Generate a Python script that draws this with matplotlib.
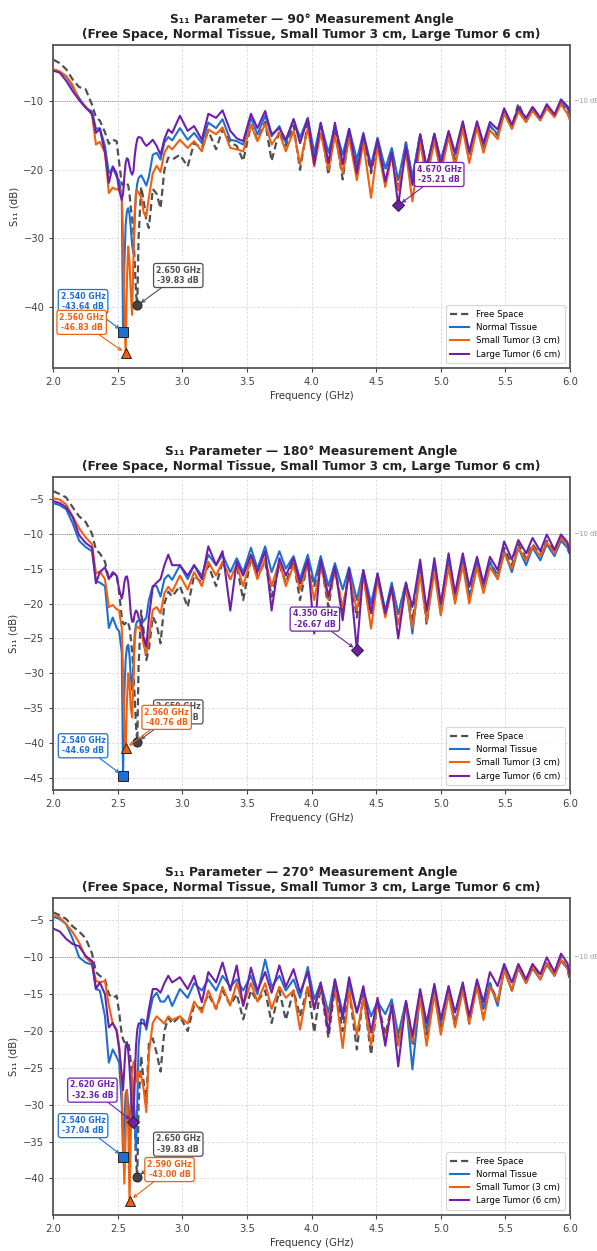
import numpy as np
import matplotlib
matplotlib.use("Agg")
from matplotlib import pyplot as plt
from matplotlib.transforms import blended_transform_factory

# frequency points (GHz) shared by every trace
freq_low = [2.00, 2.05, 2.10, 2.15, 2.20, 2.25, 2.30,
            2.33, 2.36, 2.40, 2.43, 2.46, 2.49, 2.51,
            2.53, 2.54, 2.55, 2.56, 2.57, 2.58, 2.59, 2.60, 2.61, 2.62, 2.63, 2.64, 2.65, 2.66,
            2.68, 2.70, 2.72, 2.74, 2.77, 2.80, 2.83, 2.86, 2.89, 2.92]
freq_high = [2.98, 3.04, 3.09, 3.15, 3.20, 3.26, 3.31, 3.37, 3.42, 3.47,
             3.53, 3.58, 3.64, 3.69, 3.75, 3.80, 3.86, 3.91, 3.97, 4.02,
             4.07, 4.13, 4.18, 4.24, 4.29, 4.35, 4.40, 4.46, 4.51, 4.57,
             4.62, 4.67, 4.73, 4.78, 4.84, 4.89, 4.95, 5.00, 5.06, 5.11,
             5.17, 5.22, 5.28, 5.33, 5.38, 5.44, 5.49, 5.55, 5.60, 5.66,
             5.71, 5.77, 5.82, 5.88, 5.93, 5.98, 6.00]
freq = np.array(freq_low + freq_high)

# ---- 90 deg ----
free_90 = [-3.9, -4.4, -5.3, -6.8, -7.9, -8.2, -10.5,
           -12.3, -12.8, -14.5, -16.2, -15.6, -15.8, -19.0,
           -22.0, -22.3, -22.0, -21.8, -21.9, -22.3, -23.5, -25.5, -27.0, -29.0, -33.5, -38.0, -39.83, -30.0,
           -22.5, -24.5, -27.5, -28.5, -22.8, -23.5, -25.6, -20.0, -18.2, -18.5,
           -17.8, -19.5, -16.1, -16.8, -14.3, -17.0, -14.1, -16.0, -16.5, -18.7,
           -13.4, -15.6, -13.0, -18.7, -14.3, -16.5, -13.5, -20.0, -13.2, -18.0,
           -13.5, -20.7, -14.0, -21.4, -14.5, -19.5, -15.0, -20.5, -15.8, -20.0,
           -17.0, -22.5, -16.0, -21.5, -14.8, -20.0, -14.8, -19.0, -14.5, -18.5,
           -13.2, -18.0, -13.5, -17.0, -13.5, -15.0, -11.2, -13.8, -10.3, -12.8,
           -10.8, -12.5, -10.5, -12.0, -10.0, -11.5, -12.6]
normal_90 = [-5.3, -5.7, -6.4, -7.9, -9.5, -10.9, -11.5,
             -14.0, -13.9, -16.5, -20.5, -19.7, -21.0, -21.5,
             -24.0, -43.64, -34.0, -28.0, -26.0, -25.6, -26.5, -28.5, -31.0, -32.2, -27.0, -23.5, -22.0, -21.2,
             -20.8, -21.5, -22.3, -21.0, -17.8, -17.5, -18.5, -16.0, -15.2, -15.7,
             -13.9, -15.6, -14.6, -16.1, -13.1, -13.9, -12.6, -15.6, -15.8, -16.3,
             -12.4, -14.8, -12.1, -15.1, -13.6, -16.1, -12.6, -15.3, -12.4, -17.5,
             -13.2, -17.5, -13.6, -17.8, -14.0, -18.5, -14.6, -19.3, -15.3, -19.8,
             -16.8, -21.5, -16.0, -21.0, -14.8, -19.5, -14.8, -18.5, -14.6, -17.8,
             -13.4, -17.6, -13.4, -16.6, -13.5, -14.8, -11.4, -14.0, -11.2, -13.0,
             -11.1, -12.7, -10.7, -12.2, -10.1, -11.0, -11.9]
small_90 = [-5.3, -5.6, -6.3, -7.6, -9.8, -10.7, -12.0,
            -16.3, -15.9, -17.5, -23.4, -22.6, -22.9, -22.7,
            -23.5, -30.0, -40.0, -46.83, -36.0, -31.2, -33.5, -38.0, -41.2, -33.0, -26.5, -23.3, -23.0, -23.4,
            -24.0, -26.3, -26.8, -24.0, -20.5, -19.4, -20.3, -17.5, -16.5, -17.0,
            -15.6, -16.8, -15.8, -17.3, -14.1, -14.8, -13.8, -16.8, -17.0, -17.3,
            -13.4, -15.8, -13.3, -16.3, -14.6, -17.3, -14.3, -19.2, -13.9, -19.5,
            -14.6, -20.0, -15.0, -20.5, -15.3, -21.5, -16.0, -24.1, -16.6, -22.5,
            -18.0, -23.0, -17.5, -24.6, -16.0, -21.5, -15.8, -20.5, -15.2, -19.5,
            -14.0, -19.0, -13.8, -17.5, -14.2, -15.5, -11.8, -14.0, -11.5, -13.0,
            -11.4, -12.8, -11.0, -12.3, -10.4, -11.8, -12.8]
large_90 = [-5.5, -5.8, -7.0, -8.5, -9.8, -10.9, -11.8,
            -14.6, -14.0, -17.5, -21.9, -19.5, -20.5, -23.0,
            -24.4, -23.5, -21.0, -19.0, -18.3, -18.5, -19.5, -20.3, -20.7, -20.2, -18.0, -16.5, -15.5, -15.2,
            -15.3, -16.0, -16.5, -16.2, -15.6, -16.5, -17.8, -15.5, -14.1, -14.6,
            -12.1, -14.3, -13.6, -15.6, -11.8, -12.4, -11.3, -14.3, -15.4, -15.8,
            -11.8, -13.9, -11.4, -14.8, -13.9, -15.6, -12.6, -16.1, -12.5, -19.2,
            -13.1, -19.0, -13.1, -19.2, -14.0, -20.5, -14.8, -20.0, -15.6, -21.7,
            -17.5, -25.21, -16.6, -22.2, -14.8, -19.7, -14.7, -19.2, -14.3, -17.5,
            -12.9, -17.3, -12.9, -16.1, -13.0, -14.1, -11.0, -13.4, -10.9, -12.4,
            -10.8, -12.4, -10.4, -11.9, -9.7, -10.7, -11.4]

# ---- 180 deg ----
free_180 = [-3.9, -4.3, -4.8, -6.2, -7.5, -8.3, -10.0,
            -12.3, -12.8, -14.0, -16.5, -15.8, -15.7, -18.5,
            -22.0, -22.8, -23.0, -22.8, -22.5, -22.8, -23.5, -25.0, -27.0, -29.5, -33.5, -37.5, -39.83, -29.0,
            -21.0, -24.0, -28.1, -26.5, -21.9, -23.0, -25.7, -20.0, -18.3, -19.0,
            -17.5, -20.5, -16.0, -17.0, -14.5, -17.5, -14.0, -16.5, -14.5, -19.5,
            -13.5, -16.0, -14.0, -19.0, -14.5, -17.0, -14.0, -19.5, -14.0, -17.5,
            -14.0, -20.5, -14.8, -21.0, -15.2, -22.0, -15.5, -21.5, -16.0, -21.5,
            -17.5, -21.5, -17.0, -22.5, -14.8, -23.0, -14.5, -21.0, -13.8, -19.0,
            -13.5, -19.0, -14.0, -18.0, -14.0, -16.0, -12.0, -14.5, -11.5, -13.5,
            -11.5, -13.0, -11.0, -12.5, -10.5, -11.8, -13.3]
normal_180 = [-5.6, -5.9, -6.5, -8.5, -11.0, -11.9, -12.5,
              -16.8, -17.0, -17.5, -23.5, -22.0, -23.5, -24.0,
              -27.0, -44.69, -33.0, -28.0, -26.2, -25.9, -27.5, -30.5, -32.4, -29.0, -24.3, -23.0, -22.5, -22.4,
              -22.9, -22.5, -22.0, -19.5, -17.5, -17.5, -19.0, -16.5, -15.9, -16.6,
              -14.5, -16.5, -14.5, -16.0, -13.0, -14.5, -13.0, -15.5, -13.5, -15.5,
              -12.0, -15.0, -11.8, -15.5, -12.5, -15.0, -13.2, -16.5, -13.0, -17.0,
              -13.2, -17.5, -14.2, -18.0, -14.8, -19.5, -15.2, -20.0, -15.7, -21.0,
              -17.0, -21.5, -17.0, -24.3, -14.5, -22.0, -14.3, -21.5, -13.8, -19.5,
              -13.5, -19.5, -14.0, -18.0, -14.0, -16.5, -12.5, -15.5, -12.0, -14.5,
              -12.0, -13.8, -11.5, -13.2, -11.0, -12.0, -13.0]
small_180 = [-4.9, -5.1, -5.8, -7.5, -9.2, -10.5, -11.5,
             -15.7, -15.4, -16.5, -20.5, -20.2, -20.8, -21.0,
             -23.5, -30.0, -38.0, -40.76, -34.0, -30.0, -31.5, -35.0, -36.3, -31.0, -25.5, -23.3, -23.3, -23.5,
             -23.8, -26.0, -27.2, -25.0, -20.9, -20.5, -21.4, -18.5, -17.6, -18.3,
             -16.0, -18.0, -15.5, -17.5, -14.0, -16.0, -14.0, -16.5, -14.5, -17.5,
             -13.5, -16.5, -13.5, -17.5, -14.0, -17.5, -14.5, -18.0, -14.5, -19.5,
             -14.5, -19.5, -15.3, -20.5, -15.8, -21.0, -16.0, -23.6, -16.5, -22.0,
             -18.0, -23.0, -17.8, -23.5, -15.8, -22.5, -15.5, -21.7, -14.8, -20.0,
             -14.5, -20.0, -14.8, -18.5, -14.8, -16.5, -12.8, -15.0, -12.0, -13.8,
             -11.8, -13.2, -11.2, -12.8, -10.6, -11.6, -12.6]
large_180 = [-5.3, -5.6, -6.2, -7.6, -10.2, -11.3, -12.0,
             -17.1, -15.5, -14.8, -16.5, -15.5, -16.0, -18.0,
             -19.3, -18.5, -17.0, -16.2, -16.1, -17.0, -19.0, -21.5, -22.6, -22.6, -21.5, -21.0, -21.2, -22.0,
             -22.5, -25.0, -26.2, -22.0, -17.6, -17.0, -16.5, -14.5, -13.0, -14.5,
             -14.5, -16.0, -14.5, -16.5, -11.8, -14.5, -12.5, -21.0, -14.0, -16.0,
             -13.0, -15.5, -12.5, -21.0, -13.5, -16.0, -13.5, -17.1, -13.7, -24.3,
             -13.7, -19.0, -14.7, -22.4, -15.0, -26.67, -15.2, -21.4, -15.7, -21.4,
             -17.6, -25.0, -17.1, -20.5, -13.7, -21.0, -13.5, -20.0, -12.8, -18.5,
             -12.8, -17.6, -13.3, -17.1, -13.3, -15.2, -11.1, -13.7, -10.9, -12.8,
             -10.6, -12.5, -10.1, -12.3, -10.1, -11.2, -12.8]

# ---- 270 deg ----
free_270 = [-3.9, -4.3, -4.8, -5.8, -6.5, -7.4, -9.5,
            -12.0, -12.5, -13.0, -15.0, -15.5, -15.2, -17.5,
            -20.5, -21.1, -21.5, -21.5, -21.6, -21.6, -22.5, -24.3, -26.0, -28.5, -32.0, -37.5, -39.83, -30.0,
            -23.4, -27.0, -29.8, -21.6, -21.0, -23.0, -25.5, -20.0, -18.2, -19.0,
            -18.0, -20.0, -16.5, -17.0, -15.0, -17.0, -14.5, -16.5, -15.0, -18.4,
            -14.5, -16.0, -14.5, -18.9, -14.5, -18.5, -14.5, -18.0, -14.0, -20.2,
            -14.0, -20.9, -14.0, -20.0, -14.5, -22.5, -15.0, -23.2, -16.0, -20.5,
            -16.5, -21.0, -16.0, -22.0, -15.0, -20.5, -14.5, -20.0, -14.5, -19.0,
            -14.0, -19.0, -13.5, -18.0, -13.5, -16.0, -11.5, -14.5, -11.0, -13.0,
            -11.0, -12.5, -10.8, -12.0, -10.0, -11.5, -13.3]
normal_270 = [-4.5, -4.8, -5.5, -7.5, -10.0, -10.7, -11.0,
              -14.3, -14.5, -18.0, -24.3, -22.5, -23.5, -24.3,
              -30.0, -37.04, -32.0, -28.5, -28.0, -30.0, -34.8, -30.0, -27.0, -28.0, -32.0, -36.1, -30.0, -22.0,
              -18.4, -18.5, -19.8, -18.0, -15.5, -14.8, -16.0, -16.0, -15.2, -16.6,
              -14.3, -15.5, -13.5, -14.5, -13.0, -14.5, -12.5, -14.0, -13.0, -14.5,
              -12.5, -15.0, -10.3, -14.0, -12.5, -14.5, -13.0, -15.5, -11.3, -15.7,
              -13.5, -17.5, -13.0, -17.5, -13.5, -17.5, -14.5, -18.0, -16.0, -17.7,
              -15.7, -20.5, -16.0, -25.2, -15.0, -20.0, -14.5, -19.0, -14.0, -19.3,
              -14.0, -18.5, -13.5, -17.0, -13.5, -16.6, -11.5, -14.5, -11.5, -13.5,
              -11.5, -13.0, -11.0, -12.5, -10.5, -11.5, -12.8]
small_270 = [-4.3, -4.6, -5.5, -6.6, -8.0, -10.0, -10.8,
             -13.2, -13.4, -13.2, -16.5, -19.0, -19.8, -22.0,
             -27.0, -35.0, -40.7, -34.0, -28.0, -33.0, -43.0, -34.0, -26.0, -24.3, -24.0, -26.0, -27.0, -25.5,
             -26.0, -28.0, -31.0, -23.0, -18.9, -18.0, -18.5, -19.0, -18.0, -18.5,
             -18.0, -19.0, -16.0, -17.5, -14.5, -17.0, -14.0, -16.5, -13.5, -16.5,
             -13.5, -16.0, -13.5, -17.0, -14.0, -15.5, -14.5, -19.8, -14.0, -17.0,
             -14.0, -18.5, -14.0, -22.3, -14.5, -20.5, -15.5, -22.0, -16.0, -21.5,
             -16.5, -22.0, -16.5, -21.5, -15.5, -22.0, -15.0, -20.5, -15.0, -19.5,
             -14.5, -18.9, -14.0, -18.5, -14.0, -16.0, -11.8, -14.5, -11.3, -13.5,
             -11.3, -13.0, -10.8, -12.5, -10.3, -11.5, -12.8]
large_270 = [-6.1, -6.5, -7.5, -8.2, -8.5, -9.8, -10.5,
             -14.3, -13.4, -15.0, -19.5, -18.9, -20.0, -22.5,
             -26.0, -28.0, -25.0, -22.0, -21.5, -22.7, -25.0, -28.0, -31.0, -32.36, -27.0, -22.0, -19.8, -19.0,
             -18.9, -19.0, -19.3, -17.0, -14.3, -14.3, -14.8, -13.5, -12.5, -13.4,
             -12.7, -14.3, -12.5, -16.1, -12.0, -13.4, -10.7, -14.5, -11.1, -16.6,
             -11.4, -14.5, -12.0, -14.8, -11.1, -14.0, -11.6, -14.8, -12.0, -17.0,
             -13.4, -20.2, -13.0, -18.4, -12.7, -17.5, -13.9, -20.2, -15.5, -22.0,
             -16.4, -24.8, -15.9, -20.7, -14.3, -18.9, -13.6, -18.4, -13.9, -17.5,
             -13.4, -18.0, -13.0, -16.1, -12.0, -13.9, -10.9, -13.4, -10.9, -13.0,
             -10.9, -12.3, -10.0, -12.0, -9.5, -10.8, -12.5]

angles = ["90°", "180°", "270°"]
labels = ["Free Space", "Normal Tissue", "Small Tumor (3 cm)", "Large Tumor (6 cm)"]
panels = [[free_90, normal_90, small_90, large_90],
          [free_180, normal_180, small_180, large_180],
          [free_270, normal_270, small_270, large_270]]

colors = ["#505050", "#1f6fd0", "#f0600f", "#7020a8"]
markers = ["o", "s", "^", "D"]
# annotation box offsets in pixels (dx, dy) per panel / trace
offsets = [[(41, 30), (-40, 30), (-44, 31), (41, 31)],
           [(41, 30), (-40, 30), (41, 31), (-42, 31)],
           [(41, 33), (-40, 31), (40, 31), (-41, 32)]]
yticks = [[-40, -30, -20, -10],
          [-45, -40, -35, -30, -25, -20, -15, -10, -5],
          [-40, -35, -30, -25, -20, -15, -10, -5]]

# axes boxes in figure fraction [left, bottom, width, height]
boxes = [[0.0893, 0.7058, 0.8655, 0.2582],
         [0.0893, 0.3685, 0.8655, 0.2502],
         [0.0893, 0.0288, 0.8655, 0.2534]]

fig = plt.figure(figsize=(5.97, 12.51), dpi=100)

for p, series in enumerate(panels):
    ax = fig.add_axes(boxes[p])
    for s, vals in enumerate(series):
        vals = np.array(vals)
        if s == 0:
            ax.plot(freq, vals, color=colors[s], lw=1.6, dashes=(3.2, 1.8), label=labels[s], zorder=2)
        else:
            ax.plot(freq, vals, color=colors[s], lw=1.5, label=labels[s], zorder=2 + s,
                    solid_joinstyle="round")

    ax.set_xlim(2.0, 6.0)
    ax.set_xticks(np.arange(2.0, 6.01, 0.5))
    ax.set_yticks(yticks[p])
    ax.axhline(-10, color="#999999", lw=0.7, ls=(0, (1, 1)), zorder=1)
    ax.text(1.008, -10, "\u221210 dB", transform=blended_transform_factory(ax.transAxes, ax.transData),
            fontsize=4.8, color="#999999", va="center", ha="left")
    ax.grid(True, color="#d8d8d8", lw=0.6, ls=(0, (3, 2)))
    ax.set_axisbelow(True)

    # markers + annotation at each trace minimum
    for s, vals in enumerate(series):
        vals = np.array(vals)
        i = int(np.argmin(vals))
        ax.plot(freq[i], vals[i], marker=markers[s], ms=6.5 if s != 3 else 6,
                mfc=colors[s] if s else "#444444", mec="#222222", mew=0.7, ls="none", zorder=8)
        ax.annotate(f"{freq[i]:.3f} GHz\n{vals[i]:.2f} dB", xy=(freq[i], vals[i]),
                    xytext=offsets[p][s], textcoords="offset pixels", ha="center", va="center",
                    fontsize=5.6, fontweight="bold", color=colors[s], zorder=9,
                    bbox=dict(boxstyle="round,pad=0.3", fc="white", ec=colors[s], lw=0.9),
                    arrowprops=dict(arrowstyle="->", color=colors[s], lw=0.8, shrinkA=0, shrinkB=3))

    for sp in ax.spines.values():
        sp.set_color("#555555")
        sp.set_linewidth(1.3)
    ax.tick_params(labelsize=7.2, colors="#444444", length=3, width=0.8)
    ax.set_xlabel("Frequency (GHz)", fontsize=7.3, color="#333333", labelpad=3)
    ax.set_ylabel("S\u2081\u2081 (dB)", fontsize=7.3, color="#333333", labelpad=3)
    ax.set_title(f"S\u2081\u2081 Parameter \u2014 {angles[p]} Measurement Angle\n"
                 "(Free Space, Normal Tissue, Small Tumor 3 cm, Large Tumor 6 cm)",
                 fontsize=8.8, fontweight="bold", color="#222222", pad=5, linespacing=1.2)
    leg = ax.legend(loc="lower right", fontsize=6.2, frameon=True, fancybox=True,
                    borderpad=0.5, handlelength=2.2, labelspacing=0.5, borderaxespad=0.6)
    leg.get_frame().set_edgecolor("#cccccc")
    leg.get_frame().set_linewidth(0.8)

fig.savefig("out.png", dpi=100)
